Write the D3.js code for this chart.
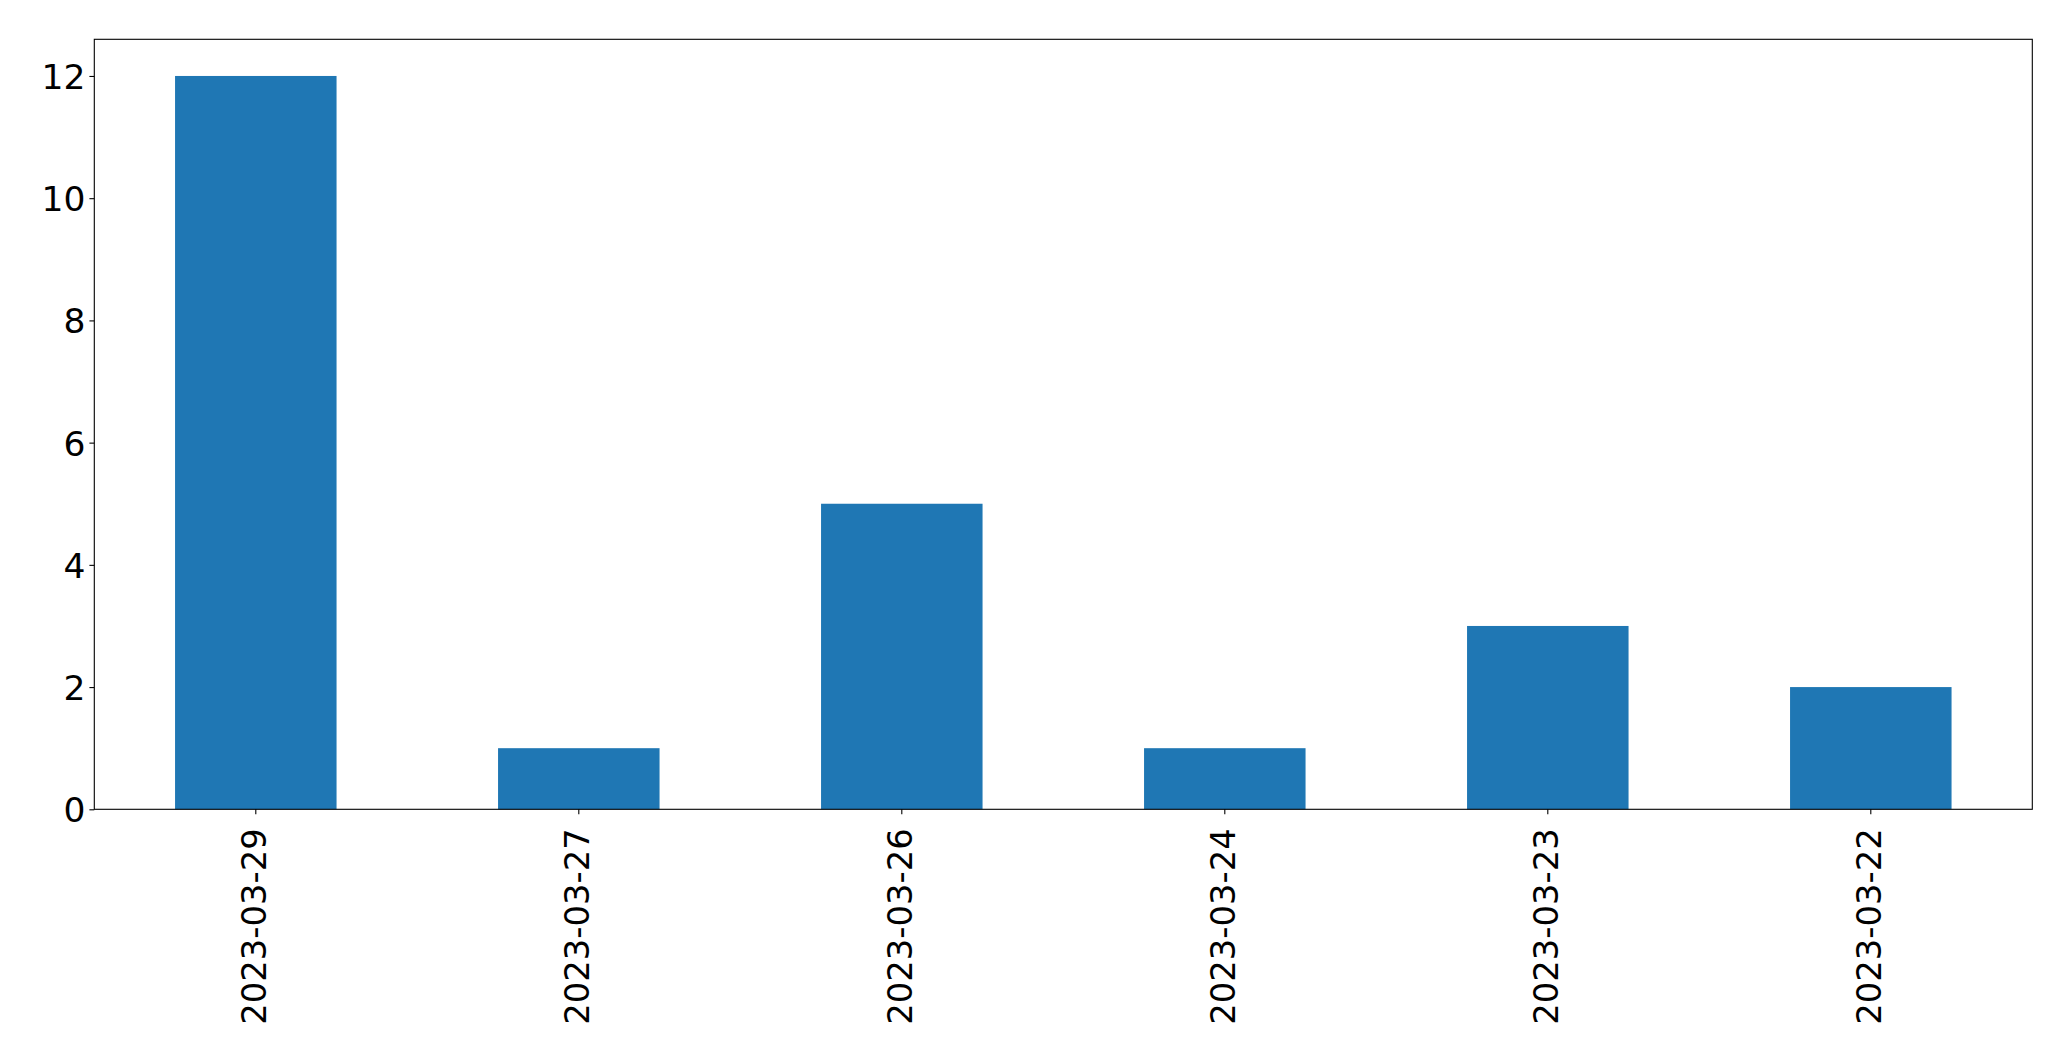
<!DOCTYPE html>
<html>
<head>
<meta charset="utf-8">
<script src="https://cdn.jsdelivr.net/npm/d3@7"></script>
<style>
  html, body { margin: 0; padding: 0; background: #fff; }
  svg { display: block; }
</style>
</head>
<body>
<svg id="chart" width="2071" height="1061"></svg>
<script>
const categories = ["2023-03-29", "2023-03-27", "2023-03-26", "2023-03-24", "2023-03-23", "2023-03-22"];
const values = [12, 1, 5, 1, 3, 2];
const yTicks = [0, 2, 4, 6, 8, 10, 12];

const W = 2071, H = 1061;
const margin = { left: 94.3, right: 2071 - 2032.3, top: 39.3, bottom: 1061 - 809.3 };
const svg = d3.select("#chart");
const fontFamily = "'DejaVu Sans', sans-serif";

const x = d3.scaleBand()
  .domain(categories)
  .range([margin.left, W - margin.right])
  .paddingInner(0.5)
  .paddingOuter(0.25);

const y = d3.scaleLinear()
  .domain([0, 12.6])
  .range([H - margin.bottom, margin.top]);

// bars
svg.append("g").selectAll("rect")
  .data(categories)
  .join("rect")
  .attr("x", d => x(d))
  .attr("width", x.bandwidth())
  .attr("y", (d, i) => y(values[i]))
  .attr("height", (d, i) => y(0) - y(values[i]))
  .attr("fill", "#1f77b4");

// frame
svg.append("rect")
  .attr("x", margin.left)
  .attr("y", margin.top)
  .attr("width", W - margin.right - margin.left)
  .attr("height", H - margin.bottom - margin.top)
  .attr("fill", "none")
  .attr("stroke", "#000")
  .attr("stroke-width", 1.1);

// y axis
const yAxis = svg.append("g")
  .attr("transform", `translate(${margin.left},0)`)
  .call(d3.axisLeft(y).tickValues(yTicks).tickFormat(d3.format("d")).tickSize(4.9).tickPadding(4));
yAxis.select(".domain").remove();
yAxis.selectAll(".tick line").attr("stroke", "#000").attr("stroke-width", 1.1);
yAxis.selectAll(".tick text")
  .attr("fill", "#000")
  .attr("dy", "0.36em")
  .style("font-family", fontFamily)
  .style("font-size", "34.5px");

// x axis
const xAxis = svg.append("g")
  .attr("transform", `translate(0,${H - margin.bottom})`)
  .call(d3.axisBottom(x).tickSize(4.9).tickPadding(0));
xAxis.select(".domain").remove();
xAxis.selectAll(".tick line").attr("stroke", "#000").attr("stroke-width", 1.1);
xAxis.selectAll(".tick text")
  .attr("fill", "#000")
  .style("font-family", fontFamily)
  .style("font-size", "33.8px")
  .attr("text-anchor", "end")
  .attr("transform", "rotate(-90)")
  .attr("x", -19)
  .attr("y", 0)
  .attr("dy", "0.29em");
</script>
</body>
</html>
